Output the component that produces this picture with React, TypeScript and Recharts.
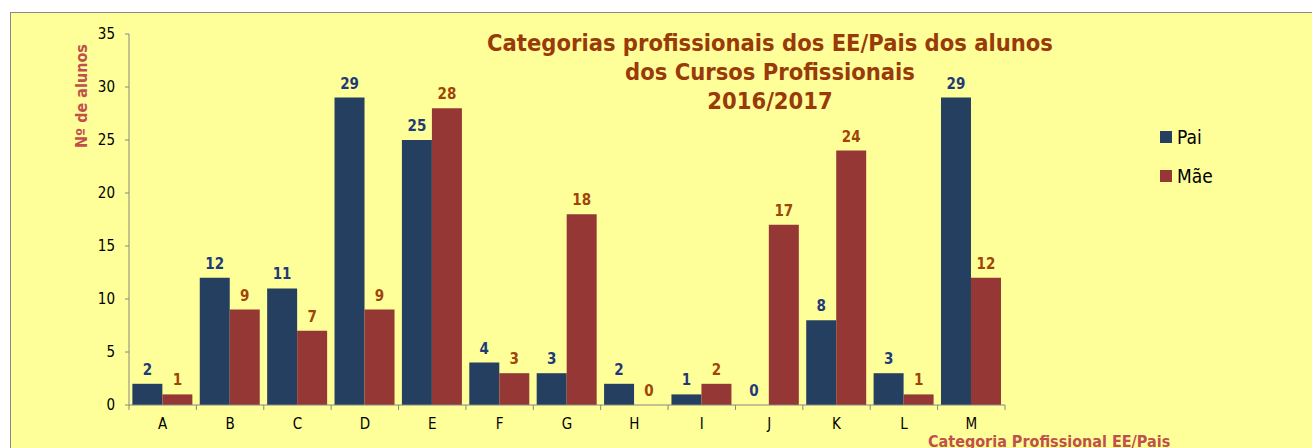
import { BarChart, Bar, XAxis, YAxis, LabelList, Legend } from "recharts";

const categories = ["A", "B", "C", "D", "E", "F", "G", "H", "I", "J", "K", "L", "M"];
const pai = [2, 12, 11, 29, 25, 4, 3, 2, 1, 0, 8, 3, 29];
const mae = [1, 9, 7, 9, 28, 3, 18, 0, 2, 17, 24, 1, 12];
const yTicks = [0, 5, 10, 15, 20, 25, 30, 35];

const data = categories.map((c, i) => ({
  cat: c,
  Pai: pai[i],
  Mae: mae[i],
  paiLabel: String(pai[i]),
  maeLabel: String(mae[i]),
}));

const FONT = '"DejaVu Sans Condensed", "DejaVu Sans", sans-serif';
const PLOT_W = 876;

// keep zero-value bars in the layout so their "0" labels still get drawn
const zeroKeep = (v: number) => (v === 0 ? 0.01 : 0);

function CatTick(props: any) {
  const { x, y, payload, index } = props;
  const band = PLOT_W / categories.length;
  return (
    <g>
      <line x1={x - band / 2} y1={y - 5} x2={x - band / 2} y2={y} stroke="#868686" />
      {index === categories.length - 1 && (
        <line x1={x + band / 2} y1={y - 5} x2={x + band / 2} y2={y} stroke="#868686" />
      )}
      <text x={x} y={y + 19} textAnchor="middle" fontSize={15} fontFamily={FONT} fill="#000">
        {payload.value}
      </text>
    </g>
  );
}

function LegendBox(props: any) {
  const items = [...props.payload].sort((a: any, b: any) => (a.value === "Pai" ? -1 : b.value === "Pai" ? 1 : 0));
  return (
    <div style={{ fontFamily: FONT }}>
      {items.map((p: any) => (
        <div key={p.value} style={{ display: "flex", alignItems: "center", height: 39 }}>
          <span style={{ width: 12, height: 12, background: p.color, marginRight: 5 }} />
          <span style={{ fontSize: 19, color: "#000" }}>{p.value === "Mae" ? "Mãe" : p.value}</span>
        </div>
      ))}
    </div>
  );
}

function ValueLabel(props: any) {
  const { x, y, width, value, color } = props;
  return (
    <text x={x + width / 2} y={y - 9} textAnchor="middle" fontSize={15} fontWeight="bold" fontFamily={FONT} fill={color}>
      {value}
    </text>
  );
}

export default function App() {
  return (
    <div style={{ position: "fixed", left: 0, top: 0, width: 1312, height: 448, background: "#fff", overflow: "hidden" }}>
      <div
        style={{
          position: "absolute", left: 10, top: 12, width: 1320, height: 460,
          background: "#FFFF99", borderTop: "1px solid #888", borderLeft: "1px solid #888",
        }}
      />
      <div
        style={{
          position: "absolute", left: 470, top: 29, width: 600, textAlign: "center",
          fontFamily: FONT, fontWeight: "bold", fontSize: 23.5, lineHeight: "29px", color: "#993A0A",
        }}
      >
        Categorias profissionais dos EE/Pais dos alunos
        <br />
        dos Cursos Profissionais
        <br />
        2016/2017
      </div>
      <div
        style={{
          position: "absolute", left: 81, top: 96, transform: "translate(-50%, -50%) rotate(-90deg)",
          whiteSpace: "nowrap", fontFamily: FONT, fontWeight: "bold", fontSize: 16, color: "#C0504D",
        }}
      >
        Nº de alunos
      </div>
      <div
        style={{
          position: "absolute", left: 928, top: 432, whiteSpace: "nowrap",
          fontFamily: FONT, fontWeight: "bold", fontSize: 16, color: "#C0504D",
        }}
      >
        Categoria Profissional EE/Pais
      </div>
      <div style={{ position: "absolute", left: 0, top: 0 }}>
        <BarChart
          width={1312}
          height={448}
          data={data}
          margin={{ top: 34, right: 187, bottom: 13, left: 69 }}
          barCategoryGap="5%"
          barGap={0}
        >
          <XAxis
            dataKey="cat"
            height={30}
            stroke="#868686"
            tickLine={false}
            tickSize={5}
            tickMargin={0}
            tick={<CatTick />}
            interval={0}
          />
          <YAxis
            width={60}
            domain={[0, 35]}
            ticks={yTicks}
            stroke="#868686"
            tickSize={4}
            tickMargin={10}
            tick={{ fill: "#000", fontSize: 15, fontFamily: FONT }}
          />
          <Legend
            layout="vertical"
            verticalAlign="top"
            align="right"
            content={<LegendBox />}
            wrapperStyle={{ left: 1160, top: 117, width: 120 }}
          />
          <Bar dataKey="Pai" name="Pai" fill="#243F60" minPointSize={zeroKeep} isAnimationActive={false}>
            <LabelList dataKey="paiLabel" content={<ValueLabel color="#1F3A78" />} />
          </Bar>
          <Bar dataKey="Mae" name="Mae" fill="#953735" minPointSize={zeroKeep} isAnimationActive={false}>
            <LabelList dataKey="maeLabel" content={<ValueLabel color="#A0450A" />} />
          </Bar>
        </BarChart>
      </div>
    </div>
  );
}
